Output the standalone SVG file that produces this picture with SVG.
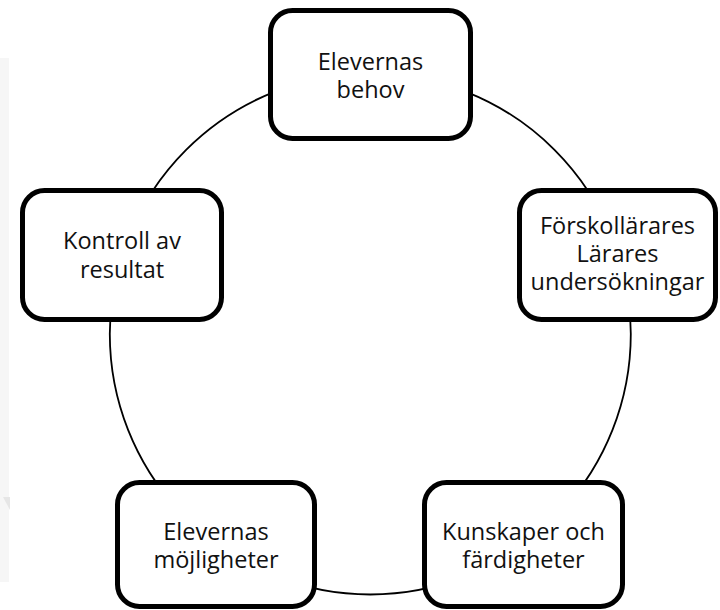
<svg xmlns="http://www.w3.org/2000/svg" width="720" height="610" viewBox="0 0 720 610">
<style>
.box{fill:#fff;stroke:#000;stroke-width:5}
.lbl{font-family:"Open Sans","Noto Sans",sans-serif;font-size:23.5px;fill:#111;text-anchor:middle}
.ring{fill:none;stroke:#000;stroke-width:1.8}
</style>
<rect x="0" y="58" width="9" height="524" fill="#f6f6f6"/>
<polygon points="3,497 10,497 10,510" fill="#e6e6e6"/>
<g id="connectors">
<circle class="ring" cx="370.3" cy="334" r="260.5"/>
</g>
<g id="n1">
<rect class="box" x="270.5" y="10.5" width="200" height="128" rx="22"/>
<text class="lbl" x="370.5" y="70">Elevernas</text>
<text class="lbl" x="370.5" y="98">behov</text>
</g>
<g id="n2">
<rect class="box" x="519.5" y="190.5" width="196" height="129" rx="22"/>
<text class="lbl" x="617.5" y="234">Förskollärares</text>
<text class="lbl" x="617.5" y="262">Lärares</text>
<text class="lbl" x="617.5" y="290">undersökningar</text>
</g>
<g id="n3">
<rect class="box" x="424.5" y="482.5" width="198" height="124" rx="22"/>
<text class="lbl" x="523.5" y="540">Kunskaper och</text>
<text class="lbl" x="523.5" y="568">färdigheter</text>
</g>
<g id="n4">
<rect class="box" x="117.5" y="482.5" width="197" height="124" rx="22"/>
<text class="lbl" x="216" y="540">Elevernas</text>
<text class="lbl" x="216" y="568">möjligheter</text>
</g>
<g id="n5">
<rect class="box" x="22.5" y="190.5" width="199" height="129" rx="22"/>
<text class="lbl" x="122" y="249">Kontroll av</text>
<text class="lbl" x="122" y="278">resultat</text>
</g>
</svg>
